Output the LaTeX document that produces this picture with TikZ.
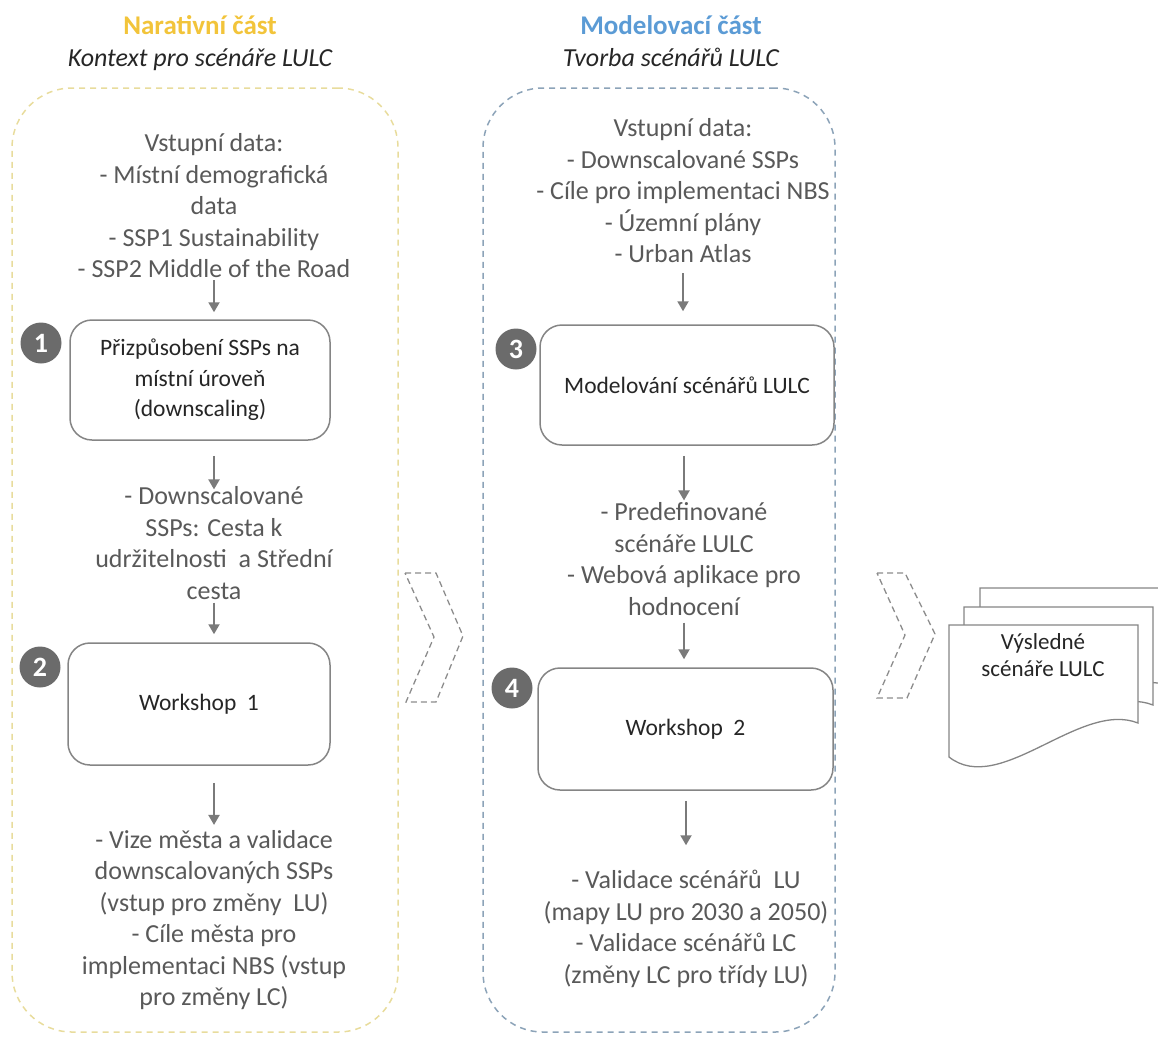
\documentclass[tikz,border=0pt]{standalone}
\usepackage{fontspec}
\setmainfont{Carlito}
\usetikzlibrary{arrows.meta}

\definecolor{txt}{HTML}{595959}
\definecolor{boxtxt}{HTML}{262626}
\definecolor{boxline}{HTML}{858585}
\definecolor{arrgray}{HTML}{7A7A7A}
\definecolor{badgegray}{HTML}{6B6B6B}
\definecolor{chevgray}{HTML}{8C8C8C}
\definecolor{narryellow}{HTML}{F2C43A}
\definecolor{modblue}{HTML}{5B9BD5}
\definecolor{panelyellow}{HTML}{E8DC9C}
\definecolor{panelblue}{HTML}{8CA3B8}

\tikzset{
  body/.style={font=\fontsize{26}{31.5}\selectfont, text=txt, align=center, inner sep=0pt},
  stepbox/.style={draw=boxline, line width=1.5pt, rounded corners=22pt, fill=white,
    font=\fontsize{23.5}{30.5}\selectfont, text=boxtxt, align=center},
  badge/.style={circle, fill=badgegray, text=white, font=\fontsize{28}{28}\selectfont\bfseries,
    minimum size=41pt, inner sep=0pt},
  arr/.style={draw=arrgray, line width=2pt, -{Triangle[width=11pt,length=10pt]}},
  chev/.style={draw=chevgray, line width=1.3pt, dash pattern=on 6pt off 4pt},
  panel/.style={rounded corners=60pt, line width=1.5pt, dash pattern=on 6pt off 5pt},
  headline/.style={font=\fontsize{27}{27}\selectfont\bfseries},
  subline/.style={font=\fontsize{26}{26}\selectfont\itshape, text=boxtxt},
  page/.style={draw=boxline, line width=1.3pt, fill=white},
}

\begin{document}
\begin{tikzpicture}[x=1pt, y=-1pt]
\useasboundingbox (0,0) rectangle (1158,1037);

% column frames
\node[panel, draw=panelyellow, minimum width=386pt, minimum height=944pt] (narr) at (205,560) {};
\node[panel, draw=panelblue, minimum width=352pt, minimum height=944pt] (model) at (659,560) {};

% headings
\node[headline, text=narryellow] (h1) at (200,25) {Narativní část};
\node[subline] (h1s) at (200,60) {Kontext pro scénáře LULC};
\node[headline, text=modblue] (h2) at (671,25) {Modelovací část};
\node[subline] (h2s) at (671,57) {Tvorba scénářů LULC};

% narrative column
\node[body] (in1) at (214,206) {Vstupní data:\\- Místní demografická\\data\\- SSP1 Sustainability\\- SSP2 Middle of the Road};
\node[stepbox, minimum width=260pt, minimum height=120pt] (box1) at (200,380)
  {Přizpůsobení SSPs na\\místní úroveň\\(downscaling)};
\node[body] (dsc) at (214,543) {- Downscalované\\SSPs: Cesta k\\udržitelnosti\ \ a Střední\\cesta};
\node[stepbox, minimum width=262pt, minimum height=122pt] (box2) at (199,704) {Workshop\ \ 1};
\node[body] (out1) at (214,920) {- Vize města a validace\\downscalovaných SSPs\\(vstup pro změny\ \ LU)\\- Cíle města pro\\implementaci NBS (vstup\\pro změny LC)};

\node[badge] (n1) at (41,343) {1};
\node[badge] (n2) at (40,667) {2};

\draw[arr, shorten <=2pt, shorten >=7pt] (in1.south) -- (in1.south |- box1.north);
\draw[arr, shorten <=15pt, shorten >=-3pt] (box1.south -| dsc.north) -- (dsc.north);
\draw[arr, shorten <=3pt, shorten >=8pt] (dsc.south) -- (dsc.south |- box2.north);
\draw[arr, shorten <=17pt, shorten >=5pt] (box2.south -| out1.north) -- (out1.north);

% modelling column
\node[body] (in2) at (683,191) {Vstupní data:\\- Downscalované SSPs\\- Cíle pro implementaci NBS\\- Územní plány\\- Urban Atlas};
\node[stepbox, minimum width=294pt, minimum height=120pt] (box3) at (687,385) {Modelování scénářů LULC};
\node[body] (pre) at (684,559) {- Predefinované\\scénáře LULC\\- Webová aplikace pro\\hodnocení};
\node[stepbox, minimum width=295pt, minimum height=122pt] (box4) at (685.5,729) {Workshop\ \ 2};
\node[body] (val) at (686,929) {- Validace scénářů\ \ LU\\(mapy LU pro 2030 a 2050)\\- Validace scénářů LC\\(změny LC pro třídy LU)};

\node[badge] (n3) at (516,349) {3};
\node[badge] (n4) at (512,688) {4};

\draw[arr, shorten <=10pt, shorten >=13pt] (in2.south) -- (in2.south |- box3.north);
\draw[arr, shorten <=10pt, shorten >=2pt] (box3.south -| pre.north) -- (pre.north);
\draw[arr, shorten <=7pt, shorten >=8pt] (pre.south) -- (pre.south |- box4.north);
\draw[arr, shorten <=10pt, shorten >=25pt] (box4.south -| val.north) -- (val.north);

% transition chevrons
\draw[chev] (405,573) -- (436,573) -- (463,636) -- (436,702) -- (406,702) -- (434,637) -- cycle;
\draw[chev] (877,573) -- (905,573) -- (935,634) -- (907,698) -- (877,698) -- (905,635) -- cycle;

% stack of result documents
\foreach \dx/\dy in {31/-37, 15/-18, 0/0} {
  \begin{scope}[shift={(\dx,\dy)}]
    \draw[page] (949,625) -- (1138,625) -- (1138,723)
      .. controls (1080,700) and (1000,797) .. (949,757) -- cycle;
  \end{scope}
}
\node[font=\fontsize{23}{27}\selectfont, text=boxtxt, align=center] (res) at (1043,655) {Výsledné\\scénáře LULC};

\end{tikzpicture}
\end{document}
